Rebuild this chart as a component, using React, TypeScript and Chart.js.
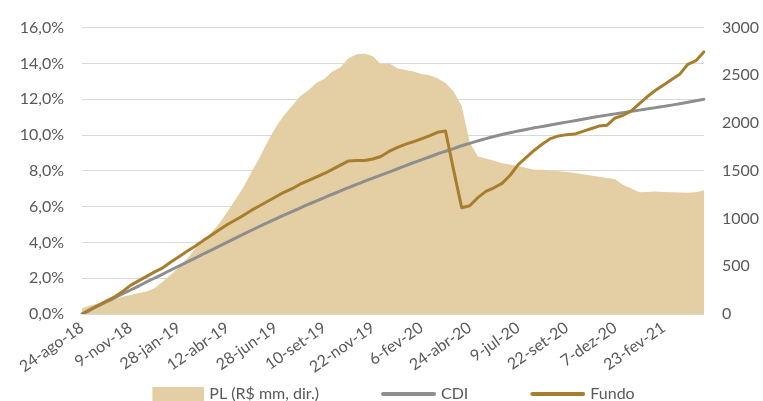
import React, { useEffect, useRef } from 'react';
import { Chart, registerables } from 'chart.js';

Chart.register(...registerables);

// X-axis tick labels (one every 6 data points)
const tickLabels = [
  '24-ago-18', '9-nov-18', '28-jan-19', '12-abr-19', '28-jun-19', '10-set-19',
  '22-nov-19', '6-fev-20', '24-abr-20', '9-jul-20', '22-set-20', '7-dez-20', '23-fev-21',
];
const pointsPerTick = 6;

// PL (R$ mm, right axis)
const plValues = [
  60, 90, 110, 130, 150, 180, 200, 220, 235, 270,
  340, 410, 490, 580, 680, 770, 850, 950, 1070, 1200,
  1330, 1490, 1640, 1810, 1960, 2080, 2180, 2280, 2340, 2420,
  2465, 2540, 2585, 2680, 2720, 2725, 2700, 2620, 2630, 2575,
  2555, 2540, 2515, 2500, 2470, 2420, 2330, 2180, 1800, 1650,
  1630, 1605, 1580, 1565, 1550, 1530, 1512, 1510, 1500, 1495,
  1488, 1477, 1465, 1450, 1438, 1425, 1412, 1350, 1315, 1275,
  1278, 1282, 1278, 1275, 1272, 1270, 1275, 1295,
];

// CDI accumulated (%)
const cdiValues = [
  0, 0.22, 0.45, 0.67, 0.89, 1.12, 1.34, 1.56, 1.79, 2.01,
  2.23, 2.46, 2.68, 2.90, 3.12, 3.35, 3.57, 3.79, 4.01, 4.24,
  4.46, 4.68, 4.90, 5.11, 5.32, 5.52, 5.72, 5.92, 6.12, 6.31,
  6.50, 6.69, 6.88, 7.06, 7.24, 7.42, 7.59, 7.76, 7.93, 8.10,
  8.28, 8.45, 8.61, 8.77, 8.94, 9.09, 9.24, 9.40, 9.53, 9.67,
  9.80, 9.92, 10.03, 10.13, 10.22, 10.31, 10.40, 10.48, 10.56, 10.64,
  10.72, 10.80, 10.88, 10.96, 11.04, 11.11, 11.18, 11.25, 11.32, 11.39,
  11.46, 11.53, 11.60, 11.67, 11.75, 11.83, 11.91, 12.00,
];

// Fundo accumulated (%)
const fundoValues = [
  0, 0.25, 0.48, 0.72, 0.95, 1.25, 1.60, 1.85, 2.10, 2.35,
  2.58, 2.90, 3.20, 3.50, 3.78, 4.10, 4.40, 4.70, 5.00, 5.25,
  5.52, 5.80, 6.05, 6.30, 6.55, 6.80, 7.00, 7.25, 7.45, 7.65,
  7.85, 8.08, 8.32, 8.55, 8.58, 8.58, 8.66, 8.80, 9.08, 9.30,
  9.48, 9.62, 9.78, 9.95, 10.15, 10.22, 8.05, 5.94, 6.05, 6.50,
  6.85, 7.05, 7.30, 7.75, 8.35, 8.75, 9.15, 9.50, 9.80, 9.95,
  10.02, 10.05, 10.20, 10.35, 10.50, 10.55, 10.95, 11.10, 11.35, 11.75,
  12.15, 12.50, 12.80, 13.10, 13.40, 13.95, 14.15, 14.65,
];

const seriesNames = ['PL (R$ mm, dir.)', 'CDI', 'Fundo'];

const categories = plValues.map((_, i) =>
  i % pointsPerTick === 0 ? (tickLabels[i / pointsPerTick] ?? '') : ''
);

const PL_COLOR = '#e4cea4';
const CDI_COLOR = '#8e8e8e';
const FUNDO_COLOR = '#a87e2e';
const TEXT_COLOR = '#595959';
const FONT = 'Lato, "Open Sans", sans-serif';

const LEG_BOX = 104;
const IMG_W = LEG_BOX + 6;

function makeLegendImage(kind: 'box' | 'line', color: string): HTMLCanvasElement {
  const c = document.createElement('canvas');
  c.width = IMG_W;
  c.height = 14;
  const ctx = c.getContext('2d')!;
  if (kind === 'box') {
    ctx.fillStyle = color;
    ctx.fillRect(IMG_W - 52, 0, 52, 14);
  } else {
    ctx.strokeStyle = color;
    ctx.lineWidth = 4;
    ctx.lineCap = 'round';
    ctx.beginPath();
    ctx.moveTo(IMG_W - 53, 7);
    ctx.lineTo(IMG_W - 2, 7);
    ctx.stroke();
  }
  return c;
}

export default function App() {
  const ref = useRef<HTMLCanvasElement>(null);

  useEffect(() => {
    document.body.style.margin = '0';
    const canvas = ref.current;
    if (!canvas) return;
    const images = [
      makeLegendImage('box', PL_COLOR),
      makeLegendImage('line', CDI_COLOR),
      makeLegendImage('line', FUNDO_COLOR),
    ];

    const chart = new Chart(canvas, {
      type: 'line',
      data: {
        labels: categories,
        datasets: [
          {
            label: seriesNames[0],
            data: plValues,
            yAxisID: 'y1',
            fill: 'origin',
            backgroundColor: PL_COLOR,
            borderColor: PL_COLOR,
            borderWidth: 0,
            pointRadius: 0,
            tension: 0,
            order: 3,
          },
          {
            label: seriesNames[1],
            data: cdiValues,
            yAxisID: 'y',
            fill: false,
            borderColor: CDI_COLOR,
            backgroundColor: CDI_COLOR,
            borderWidth: 3,
            pointRadius: 0,
            tension: 0.2,
            borderCapStyle: 'round',
            borderJoinStyle: 'round',
            order: 2,
          },
          {
            label: seriesNames[2],
            data: fundoValues,
            yAxisID: 'y',
            fill: false,
            borderColor: FUNDO_COLOR,
            backgroundColor: FUNDO_COLOR,
            borderWidth: 3,
            pointRadius: 0,
            tension: 0,
            borderCapStyle: 'round',
            borderJoinStyle: 'round',
            order: 1,
          },
        ],
      },
      options: {
        responsive: false,
        maintainAspectRatio: false,
        animation: false,
        devicePixelRatio: 1,
        layout: { padding: { top: 25, left: -28, right: 3, bottom: -11 } },
        font: { family: FONT },
        scales: {
          x: {
            type: 'category',
            offset: false,
            grid: { display: false, drawTicks: false },
            border: { display: false },
            ticks: {
              autoSkip: false,
              minRotation: 35,
              maxRotation: 35,
              padding: 4,
              color: TEXT_COLOR,
              font: { family: FONT, size: 16 },
              callback: (_v: any, i: number) => categories[i],
            },
            afterFit: (s: any) => { s.height = 62; },
          },
          y: {
            position: 'left',
            min: 0,
            max: 16,
            grid: { color: '#d9d9d9', lineWidth: 1, drawTicks: false },
            border: { display: false },
            ticks: {
              stepSize: 2,
              padding: 18,
              color: TEXT_COLOR,
              font: { family: FONT, size: 16 },
              callback: (v: any) => Number(v).toFixed(1).replace('.', ',') + '%',
            },
            afterFit: (s: any) => { s.width = 110; },
          },
          y1: {
            position: 'right',
            min: 0,
            max: 3000,
            grid: { display: false, drawTicks: false },
            border: { display: false },
            ticks: {
              stepSize: 500,
              padding: 18,
              color: TEXT_COLOR,
              font: { family: FONT, size: 16 },
              callback: (v: any) => String(Math.round(Number(v))),
            },
            afterFit: (s: any) => { s.width = 56; },
          },
        },
        plugins: {
          tooltip: { enabled: false },
          legend: {
            position: 'bottom',
            labels: {
              usePointStyle: true,
              pointStyleWidth: LEG_BOX,
              boxWidth: LEG_BOX,
              boxHeight: 14,
              padding: 10,
              color: TEXT_COLOR,
              font: { family: FONT, size: 16 },
              generateLabels: (ch: any) =>
                ch.data.datasets.map((ds: any, i: number) => ({
                  text: ds.label,
                  pointStyle: images[i],
                  fillStyle: 'rgba(0,0,0,0)',
                  strokeStyle: 'rgba(0,0,0,0)',
                  lineWidth: 0,
                  hidden: false,
                  datasetIndex: i,
                  fontColor: TEXT_COLOR,
                })),
            },
          },
        },
      },
    });

    return () => chart.destroy();
  }, []);

  return (
    <div style={{ width: 763, height: 401 }}>
      <canvas ref={ref} width={763} height={401} style={{ display: 'block' }} />
    </div>
  );
}
